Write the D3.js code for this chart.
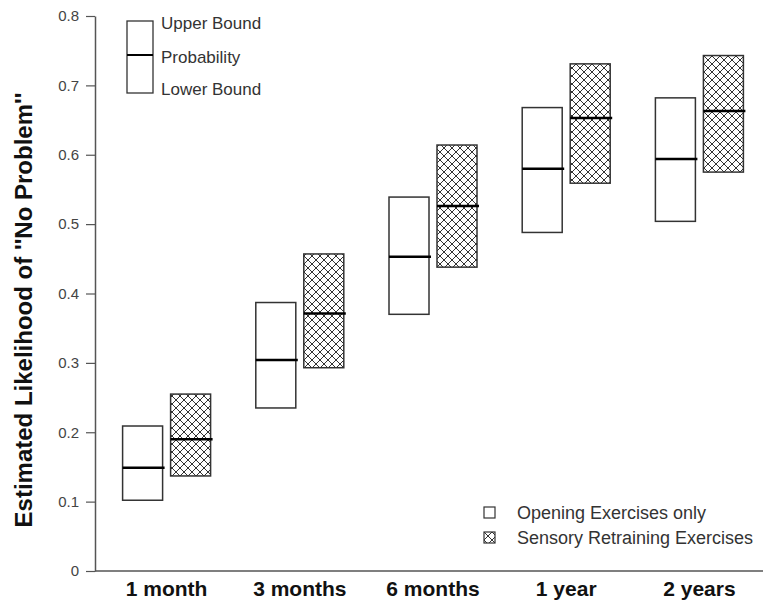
<!DOCTYPE html>
<html>
<head>
<meta charset="utf-8">
<script src="https://cdn.jsdelivr.net/npm/d3@7"></script>
<style>
  body { margin: 0; background: #fff; }
  svg { display: block; }
</style>
</head>
<body>
<div id="chart"></div>
<script>
// data
const periods = ["1 month", "3 months", "6 months", "1 year", "2 years"];
const groups = ["Opening Exercises only", "Sensory Retraining Exercises"];
const openLower = [0.102, 0.235, 0.370, 0.488, 0.504];
const openProb = [0.149, 0.304, 0.453, 0.580, 0.594];
const openUpper = [0.209, 0.387, 0.539, 0.668, 0.682];
const sensLower = [0.137, 0.293, 0.438, 0.559, 0.575];
const sensProb = [0.190, 0.371, 0.526, 0.653, 0.663];
const sensUpper = [0.255, 0.457, 0.614, 0.731, 0.743];
const yTicks = [0, 0.1, 0.2, 0.3, 0.4, 0.5, 0.6, 0.7, 0.8];

const width = 763, height = 608;
const margin = {top: 16, right: 0, bottom: 37, left: 95};
const font = "Arial, 'Liberation Sans', sans-serif";

const svg = d3.select("#chart").append("svg")
  .attr("width", width)
  .attr("height", height);

// cross hatch
const defs = svg.append("defs");
const pat = defs.append("pattern")
  .attr("id", "hatch")
  .attr("patternUnits", "userSpaceOnUse")
  .attr("width", 8).attr("height", 8);
pat.append("rect").attr("width", 8).attr("height", 8).attr("fill", "#fff");
pat.append("path")
  .attr("d", "M0,0L8,8M8,0L0,8M-1,7L1,9M7,-1L9,1")
  .attr("stroke", "#333").attr("stroke-width", 1);

const y = d3.scaleLinear().domain([0, 0.8]).range([height - margin.bottom, margin.top]);
const x = d3.scaleBand().domain(periods).range([100, 766]);
const boxW = 40, gap = 8;

// y axis
const yAxis = svg.append("g")
  .attr("transform", `translate(${margin.left},0)`)
  .call(d3.axisLeft(y).tickValues(yTicks).tickSize(9).tickSizeOuter(0)
    .tickFormat(d => d === 0 ? "0" : d3.format(".1f")(d)));
yAxis.select(".domain").attr("stroke", "#555").attr("stroke-width", 1.5);
yAxis.selectAll(".tick line").attr("stroke", "#555").attr("stroke-width", 1.2);
yAxis.selectAll(".tick text")
  .attr("x", -16)
  .attr("fill", "#444")
  .style("font", `15px ${font}`);

// x axis
svg.append("line")
  .attr("x1", margin.left).attr("x2", width)
  .attr("y1", y(0)).attr("y2", y(0))
  .attr("stroke", "#555").attr("stroke-width", 1.5);

svg.append("g").selectAll("text")
  .data(periods)
  .enter().append("text")
  .attr("x", d => x(d) + x.bandwidth() / 2)
  .attr("y", 596)
  .attr("text-anchor", "middle")
  .attr("fill", "#111")
  .style("font", `bold 21px ${font}`)
  .text(d => d);

// y title
svg.append("text")
  .attr("transform", "translate(32,310) rotate(-90)")
  .attr("text-anchor", "middle")
  .attr("fill", "#111")
  .style("font", `bold 24px ${font}`)
  .text("Estimated Likelihood of ''No Problem''");

function drawBoxes(lower, prob, upper, offset, fill) {
  const g = svg.append("g");
  periods.forEach((p, i) => {
    const x0 = x(p) + x.bandwidth() / 2 + offset;
    g.append("rect")
      .attr("x", x0)
      .attr("y", y(upper[i]))
      .attr("width", boxW)
      .attr("height", y(lower[i]) - y(upper[i]))
      .attr("fill", fill)
      .attr("stroke", "#333")
      .attr("stroke-width", 1.5);
    g.append("line")
      .attr("x1", x0).attr("x2", x0 + boxW + 2)
      .attr("y1", y(prob[i])).attr("y2", y(prob[i]))
      .attr("stroke", "#000")
      .attr("stroke-width", 2.5);
  });
}
drawBoxes(openLower, openProb, openUpper, -boxW - gap / 2, "#fff");
drawBoxes(sensLower, sensProb, sensUpper, gap / 2, "url(#hatch)");

// legend: box key
const key = svg.append("g");
key.append("rect").attr("x", 127).attr("y", 21).attr("width", 26).attr("height", 72)
  .attr("fill", "#fff").attr("stroke", "#333").attr("stroke-width", 1.3);
key.append("line").attr("x1", 127).attr("x2", 153).attr("y1", 55).attr("y2", 55)
  .attr("stroke", "#000").attr("stroke-width", 2);
[["Upper Bound", 23], ["Probability", 57], ["Lower Bound", 89]].forEach(([t, ty]) => {
  key.append("text")
    .attr("x", 161).attr("y", ty)
    .attr("dy", "0.35em")
    .attr("fill", "#333")
    .style("font", `17px ${font}`)
    .text(t);
});

// legend: groups
const leg = svg.append("g");
groups.forEach((gname, i) => {
  const ly = 507 + i * 25;
  leg.append("rect")
    .attr("x", 484).attr("y", ly)
    .attr("width", 11).attr("height", 11)
    .attr("fill", i === 0 ? "#fff" : "url(#hatch)")
    .attr("stroke", "#333").attr("stroke-width", 1.2);
  leg.append("text")
    .attr("x", 517).attr("y", ly + 6)
    .attr("dy", "0.35em")
    .attr("fill", "#333")
    .style("font", `18px ${font}`)
    .text(gname);
});
</script>
</body>
</html>
